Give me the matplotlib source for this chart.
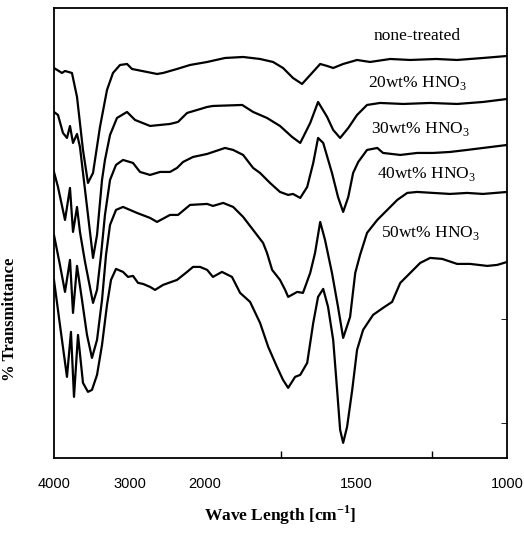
import numpy as np
import matplotlib
matplotlib.use("Agg")
from matplotlib import pyplot as plt

plt.rcParams['mathtext.fontset'] = 'custom'
plt.rcParams['mathtext.rm'] = 'Liberation Serif'
plt.rcParams['mathtext.bf'] = 'Liberation Serif:bold'

# wavenumbers (cm-1) and transmittance (arbitrary, stacked)
wn_none = [4000, 3894, 3854, 3762, 3695, 3616, 3550, 3483, 3391, 3298, 3219, 3126,
           3033, 2967, 2901, 2768, 2636, 2556, 2371, 2199, 1993, 1934, 1874, 1818,
           1775, 1742, 1709, 1679, 1652, 1619, 1596, 1576, 1543, 1497, 1454, 1387,
           1321, 1235, 1166, 1080, 1000]
t_none = [390, 385, 387, 385, 361, 308, 275, 285, 331, 368, 385, 393,
          394, 389, 388, 386, 384, 385, 389, 393, 396, 400, 401, 399,
          396, 390, 380, 374, 383, 394, 392, 390, 394, 398, 396, 399,
          398, 399, 398, 400, 402]

wn_20 = [4000, 3947, 3881, 3828, 3788, 3748, 3695, 3656, 3550, 3483, 3430, 3364,
         3325, 3258, 3166, 3033, 2927, 2728, 2596, 2464, 2358, 2238, 1993, 1974,
         1877, 1841, 1795, 1752, 1712, 1685, 1652, 1626, 1596, 1576, 1553, 1526,
         1497, 1464, 1421, 1344, 1255, 1166, 1080, 1000]
t_20 = [346, 343, 325, 320, 332, 315, 324, 311, 243, 200, 223, 278,
        298, 323, 340, 346, 338, 332, 333, 334, 336, 345, 351, 352,
        353, 346, 340, 332, 321, 315, 335, 356, 341, 328, 320, 330,
        343, 353, 355, 354, 355, 354, 356, 359]

wn_30 = [4000, 3947, 3854, 3788, 3748, 3695, 3656, 3589, 3483, 3430, 3377, 3325,
         3258, 3179, 3086, 2954, 2861, 2728, 2596, 2464, 2371, 2291, 2159, 1993,
         1934, 1907, 1874, 1841, 1818, 1785, 1752, 1725, 1709, 1685, 1662, 1642,
         1626, 1609, 1580, 1560, 1543, 1526, 1510, 1493, 1464, 1430, 1411, 1354,
         1298, 1245, 1189, 1133, 1080, 1000]
t_30 = [286, 271, 238, 270, 226, 251, 226, 196, 155, 168, 203, 243,
        278, 293, 298, 295, 286, 283, 286, 286, 290, 296, 301, 304,
        310, 308, 303, 290, 285, 275, 266, 263, 264, 260, 271, 295,
        320, 315, 285, 261, 246, 261, 285, 296, 308, 310, 305, 303,
        305, 305, 306, 308, 310, 313]

wn_40 = [4000, 3921, 3854, 3788, 3748, 3695, 3629, 3563, 3497, 3430, 3364, 3311,
         3258, 3179, 3086, 2901, 2728, 2636, 2464, 2358, 2199, 1993, 1974, 1940,
         1907, 1874, 1841, 1808, 1795, 1778, 1752, 1735, 1725, 1695, 1676, 1652,
         1636, 1619, 1603, 1580, 1560, 1543, 1520, 1503, 1487, 1464, 1430, 1397,
         1364, 1331, 1298, 1245, 1189, 1133, 1080, 1000]
t_40 = [223, 193, 166, 198, 145, 192, 158, 123, 100, 118, 158, 203,
        233, 248, 251, 245, 240, 236, 243, 243, 253, 254, 252, 255,
        251, 241, 228, 215, 205, 188, 178, 168, 161, 166, 165, 185,
        205, 236, 218, 185, 151, 120, 141, 185, 203, 225, 238, 248,
        258, 265, 266, 265, 264, 265, 264, 266]

wn_50 = [4000, 3921, 3828, 3775, 3735, 3682, 3616, 3550, 3497, 3430, 3364, 3298,
         3245, 3179, 3086, 3020, 2954, 2887, 2821, 2728, 2662, 2556, 2371, 2238,
         2159, 2066, 1993, 1974, 1944, 1911, 1884, 1851, 1818, 1791, 1762, 1742,
         1725, 1702, 1685, 1662, 1642, 1626, 1609, 1593, 1576, 1563, 1553, 1543,
         1530, 1513, 1497, 1477, 1444, 1411, 1381, 1354, 1321, 1288, 1255, 1215,
         1166, 1123, 1066, 1033, 1000]
t_50 = [178, 133, 81, 126, 61, 123, 75, 66, 68, 83, 113, 153,
        178, 189, 186, 181, 182, 175, 174, 171, 168, 173, 178, 186,
        191, 191, 188, 181, 186, 181, 165, 156, 135, 111, 91, 78,
        70, 81, 83, 95, 135, 161, 169, 151, 118, 68, 28, 15,
        31, 68, 108, 128, 143, 150, 156, 175, 185, 195, 200, 199,
        194, 194, 192, 193, 196]

names = ['none-treated', '20wt% HNO$_3$', '30wt% HNO$_3$',
         '40wt% HNO$_3$', '50wt% HNO$_3$']
label_pos = [(0.801, 0.938), (0.803, 0.833), (0.808, 0.731),
             (0.821, 0.631), (0.830, 0.500)]


def forward(w):
    w = np.asarray(w, dtype=float)
    return np.where(w <= 2000, (w - 1000) / 250.0, 4 + (w - 2000) / 1000.0)


def inverse(u):
    u = np.asarray(u, dtype=float)
    return np.where(u <= 4, 1000 + 250.0 * u, 2000 + 1000.0 * (u - 4))


fig = plt.figure(figsize=(5.24, 5.33), dpi=100)
ax = fig.add_axes([0.103, 0.141, 0.865, 0.844])
ax.set_xscale('function', functions=(forward, inverse))

series = [(wn_none, t_none), (wn_20, t_20), (wn_30, t_30),
          (wn_40, t_40), (wn_50, t_50)]
for wn, t in series:
    ax.plot(wn, t, color='black', lw=1.6, solid_joinstyle='round')

for name, (x, y) in zip(names, label_pos):
    ax.text(x, y, name, transform=ax.transAxes, ha='center', va='center',
            fontsize=12.5, family='Liberation Serif')

ax.set_xlim(4000, 1000)
ax.set_ylim(0, 450)

ax.set_xticks([4000, 3000, 2000, 1500, 1000])
ax.set_xticklabels(['4000', '3000', '2000', '1500', '1000'],
                   family='Liberation Sans', fontsize=10.5)
ax.set_xticks([3000, 2000, 1750, 1500, 1250], minor=True)
ax.tick_params(axis='x', which='major', length=0, pad=14)
ax.tick_params(axis='x', which='minor', direction='in', length=5, width=1)
ax.set_yticks([35, 139], minor=True)
ax.set_yticks([])
ax.tick_params(axis='y', which='minor', direction='in', length=4,
               left=False, right=True)

for s in ax.spines.values():
    s.set_linewidth(1.3)

ax.set_xlabel('Wave Length [cm$^{\\mathbf{-1}}$]', family='Liberation Serif',
              fontweight='bold', fontsize=12.5)
ax.xaxis.set_label_coords(0.50, -0.102)
ax.set_ylabel('% Transmittance', family='Liberation Serif',
              fontweight='bold', fontsize=12)
ax.yaxis.set_label_coords(-0.08, 0.307)

fig.savefig('out.png', dpi=100)
